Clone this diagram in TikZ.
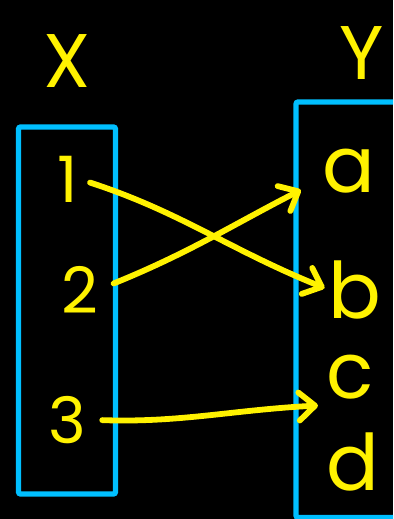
\documentclass[tikz,border=0pt]{standalone}
\usepackage{fontspec}
\newfontfamily\handfont{Poppins}
\usetikzlibrary{arrows.meta}

\definecolor{setcyan}{HTML}{00BFFF}
\definecolor{markyellow}{HTML}{FFF200}

\tikzset{
  setbox/.style={draw=setcyan,line width=2.6pt,rounded corners=1pt},
  setname/.style={text=markyellow,inner sep=0pt,anchor=base,font=\handfont\fontsize{38}{40}\selectfont},
  elem/.style={text=markyellow,inner sep=0pt,anchor=base,font=\handfont\fontsize{32}{34}\selectfont},
  letter/.style={text=markyellow,inner sep=0pt,anchor=base,font=\handfont\fontsize{39}{41}\selectfont},
  link/.style={draw=markyellow,line width=2.9pt,line cap=round,
    -{Straight Barb[length=8pt,width=14pt,round]}}
}

\begin{document}
\begin{tikzpicture}[x=0.5pt,y=-0.5pt]
  \useasboundingbox (0,0) rectangle (393,519);
  \fill[black] (0,0) rectangle (393,519);
  \clip (0,0) rectangle (393,519);

  % the two sets
  \draw[setbox] (18.5,127) rectangle (115.5,494);
  \draw[setbox] (296,102) rectangle (410,517.5);

  \node[setname] (nameX) at (67,88) {X};
  \node[setname] (nameY) at (362,80) {Y};

  % elements of X
  \node[elem] (one) at (68,202) {1};
  \node[elem] (two) at (80,313) {2};
  \node[elem] (three) at (67,443) {3};

  % elements of Y
  \node[letter] (ay) at (349,192) {a};
  \node[letter] (bee) at (355,318) {b};
  \node[letter] (cee) at (350,398) {c};
  \node[letter] (dee) at (353,490) {d};

  % the map
  \draw[link,shorten <=6pt,shorten >=2pt] (one.east) to[out=-18,in=158] (bee.west);
  \draw[link,shorten <=8pt,shorten >=12pt] (two.east) to[out=22,in=207] ([yshift=7pt]ay.south west);
  \draw[link,shorten <=8pt,shorten >=4pt] (three.east) to[out=-2,in=183] ([yshift=-3pt]cee.south west);
\end{tikzpicture}
\end{document}
